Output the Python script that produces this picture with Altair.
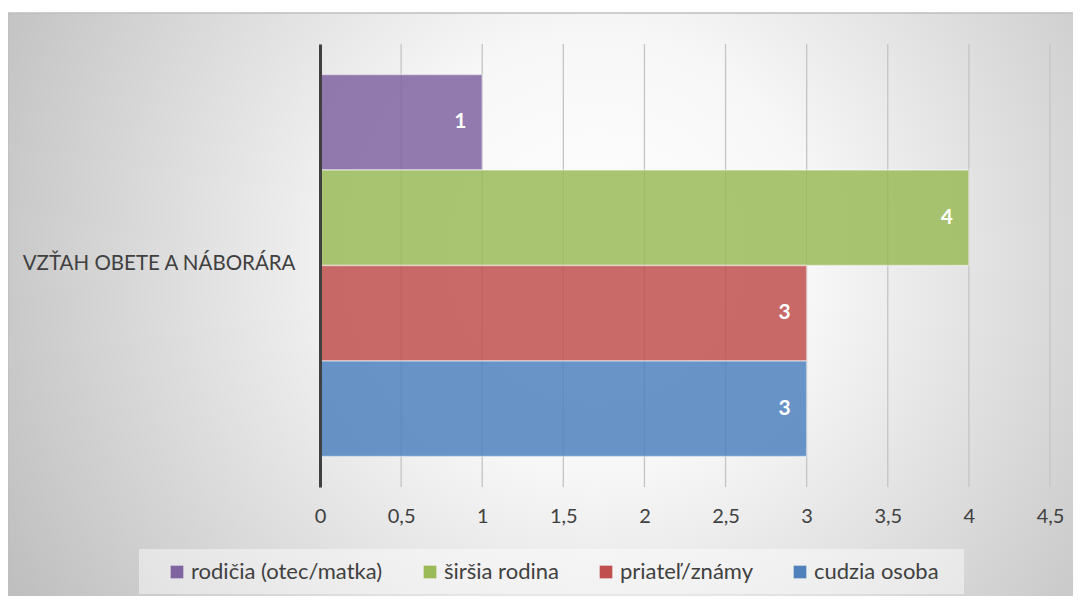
import altair as alt
import pandas as pd

categories = ["rodičia (otec/matka)", "širšia rodina", "priateľ/známy", "cudzia osoba"]
values = [1, 4, 3, 3]
colors = ["#8064A2", "#9BBB59", "#C0504D", "#4F81BD"]
group_label = "VZŤAH OBETE A NÁBORÁRA"
ticks = [0, 0.5, 1, 1.5, 2, 2.5, 3, 3.5, 4, 4.5]
grid_ticks = [0.5, 1, 1.5, 2, 2.5, 3, 3.5, 4, 4.5]

FONT = "Lato"
W, H = 730, 443
PL, PT, PR, PB = 312, 36, 23, 109

df = pd.DataFrame({"kategoria": categories, "hodnota": values})
grid_df = pd.DataFrame({"g": grid_ticks})

xscale = alt.Scale(domain=[0, 4.5], nice=False, zero=True)
yscale = alt.Scale(domain=categories, paddingInner=0, paddingOuter=0.32)
cscale = alt.Scale(domain=categories, range=colors)

one = pd.DataFrame({"a": [0]})

bg = alt.Chart(one).mark_rect(
    fill={
        "gradient": "radial",
        "x1": 0.55, "y1": 0.45, "r1": 0,
        "x2": 0.55, "y2": 0.45, "r2": 0.68,
        "stops": [
            {"offset": 0, "color": "#ffffff"},
            {"offset": 0.3, "color": "#f7f7f7"},
            {"offset": 1, "color": "#b8b8b8"},
        ],
    },
    stroke="#bfbfbf",
    strokeWidth=1.5,
).encode(
    x=alt.value(-PL),
    x2=alt.value(W + PR + 5),
    y=alt.value(-PT + 5),
    y2=alt.value(H + PB + 5),
)

legend_box = alt.Chart(one).mark_rect(fill="#ffffff", fillOpacity=0.45).encode(
    x=alt.value(-181), x2=alt.value(644), y=alt.value(505), y2=alt.value(550)
)

grid = alt.Chart(grid_df).mark_rule(color="#c4c4c4", strokeWidth=1.3).encode(
    x=alt.X("g:Q", scale=xscale)
)

bars = alt.Chart(df).mark_bar(
    fillOpacity=0.85, stroke="#ffffff", strokeOpacity=0.45, strokeWidth=1.5
).encode(
    x=alt.X(
        "hodnota:Q",
        scale=xscale,
        axis=alt.Axis(
            values=ticks,
            grid=False,
            ticks=False,
            domain=False,
            format="~g",
            labelExpr="replace(datum.label, '.', ',')",
            labelFlush=False,
            labelFont=FONT,
            labelFontSize=20,
            labelColor="#404040",
            labelPadding=19,
            title=None,
            zindex=1,
        ),
    ),
    y=alt.Y(
        "kategoria:N",
        scale=yscale,
        axis=alt.Axis(
            title=group_label,
            titleAngle=0,
            titleAlign="right",
            titleBaseline="middle",
            titleX=-25,
            titleY=219,
            titleFont=FONT,
            titleFontSize=20.5,
            titleFontWeight="normal",
            titleColor="#404040",
            labels=False,
            ticks=False,
            domain=True,
            domainColor="#404040",
            domainWidth=3,
            grid=False,
            zindex=1,
        ),
    ),
    color=alt.Color(
        "kategoria:N",
        scale=cscale,
        legend=alt.Legend(
            title=None,
            orient="none",
            legendX=-154,
            legendY=517,
            direction="horizontal",
            columns=4,
            symbolType="square",
            symbolSize=160,
            symbolStrokeWidth=0,
            labelFont=FONT,
            labelFontSize=22,
            labelLimit=400,
            labelColor="#404040",
            labelOffset=3,
            columnPadding=36,
            padding=0,
            zindex=1,
        ),
    ),
)

labels = alt.Chart(df).mark_text(
    color="white", fontWeight="bold", font=FONT, fontSize=21, dx=-22, align="center",
    baseline="middle",
).encode(
    x=alt.X("hodnota:Q", scale=xscale),
    y=alt.Y("kategoria:N", scale=yscale),
    text=alt.Text("hodnota:Q"),
)

chart = alt.layer(bg, legend_box, grid, bars, labels).properties(
    width=W,
    height=H,
    padding={"left": PL, "top": PT, "right": PR, "bottom": PB},
    autosize=alt.AutoSizeParams(type="none"),
).configure_view(stroke=None).configure(background="white")

chart.save("out.html", embed_options={"renderer": "svg", "actions": False})
